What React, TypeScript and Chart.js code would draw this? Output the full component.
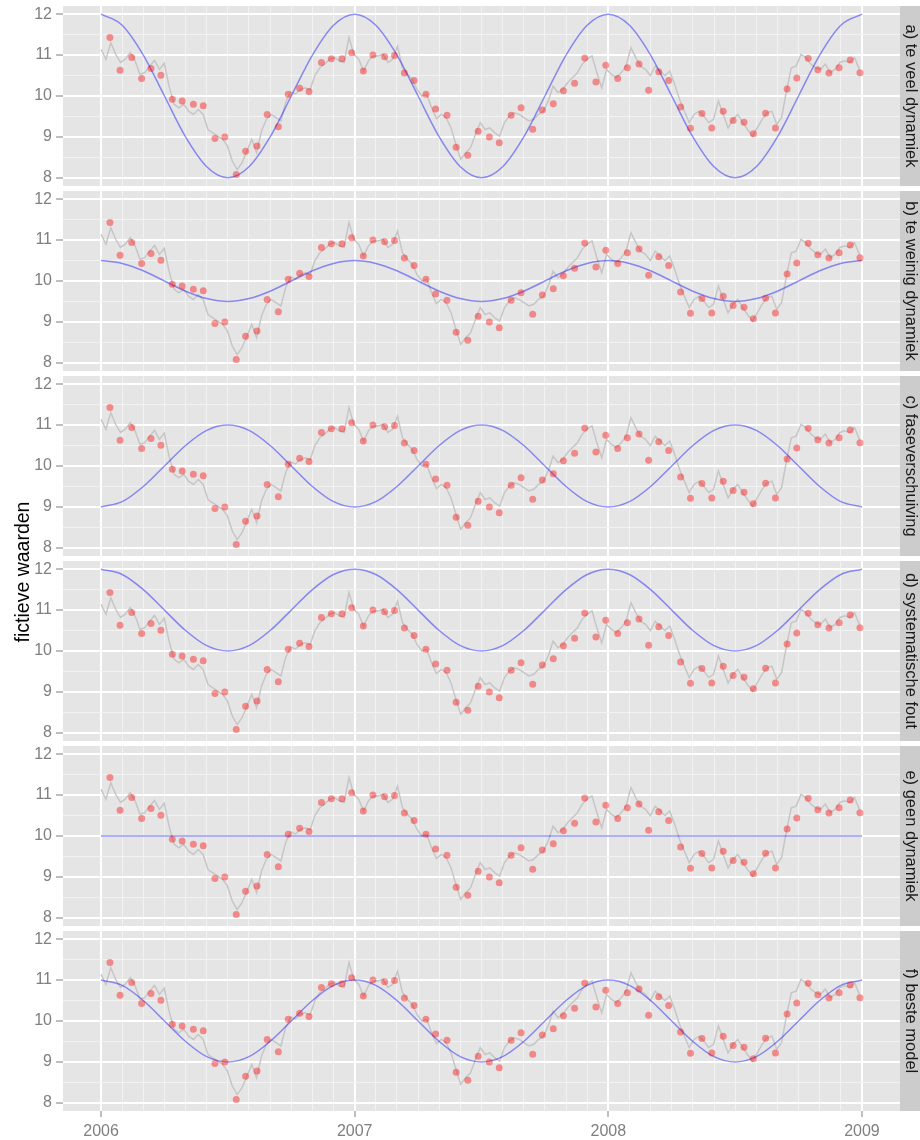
import React, { useEffect, useRef } from "react";
import { Chart, registerables } from "chart.js";

Chart.register(...registerables);

// ---------- data ----------
const panelLabels = [
  "a) te veel dynamiek",
  "b) te weinig dynamiek",
  "c) faseverschuiving",
  "d) systematische fout",
  "e) geen dynamiek",
  "f) beste model",
];

const yAxisTitle = "fictieve waarden";
const xTickYears = [2006, 2007, 2008, 2009];
const yTickValues = [8, 9, 10, 11, 12];

// observations (pink points): time offset in years from 2006, value
const obsTimes = [
  0.035, 0.075, 0.121, 0.16, 0.197, 0.236, 0.281, 0.32, 0.364, 0.403,
  0.449, 0.488, 0.533, 0.57, 0.615, 0.655, 0.699, 0.738, 0.783, 0.82,
  0.869, 0.908, 0.95, 0.988, 1.034, 1.072, 1.118, 1.157, 1.196, 1.234,
  1.281, 1.319, 1.364, 1.4, 1.446, 1.487, 1.531, 1.57, 1.617, 1.656,
  1.702, 1.74, 1.783, 1.823, 1.867, 1.907, 1.951, 1.99, 2.037, 2.075,
  2.121, 2.159, 2.199, 2.238, 2.285, 2.324, 2.369, 2.408, 2.453, 2.492,
  2.535, 2.572, 2.62, 2.659, 2.705, 2.743, 2.788, 2.826, 2.87, 2.91,
  2.954, 2.992,
];
const obsValues = [
  11.43, 10.63, 10.94, 10.43, 10.67, 10.51, 9.92, 9.88, 9.8, 9.76,
  8.96, 9.0, 8.08, 8.65, 8.78, 9.55, 9.25, 10.04, 10.19, 10.11,
  10.82, 10.91, 10.91, 11.06, 10.61, 11.0, 10.96, 10.99, 10.56, 10.38,
  10.04, 9.68, 9.53, 8.75, 8.55, 9.14, 9.0, 8.86, 9.53, 9.71,
  9.19, 9.66, 9.81, 10.13, 10.31, 10.93, 10.34, 10.75, 10.43, 10.69,
  10.78, 10.14, 10.59, 10.38, 9.73, 9.21, 9.57, 9.22, 9.63, 9.4,
  9.36, 9.08, 9.58, 9.22, 10.17, 10.44, 10.92, 10.64, 10.56, 10.69,
  10.88, 10.57,
];

// underlying series (grey line), one value per week from 1 Jan 2006
const greyStepDays = 7;
const greyValues = [
  11.14, 10.9, 11.3, 11.02, 10.82, 10.9, 11.06, 10.86, 10.53, 10.57,
  10.73, 10.87, 10.65, 10.8, 10.24, 9.8, 9.71, 9.8, 9.63, 9.55,
  9.67, 9.55, 9.18, 9.1, 9.02, 8.94, 8.78, 8.41, 8.2, 8.37,
  8.65, 8.94, 8.61, 9.14, 9.43, 9.55, 9.47, 9.39, 9.85, 10.1,
  10.05, 10.16, 10.2, 10.15, 10.5, 10.69, 10.78, 10.9, 10.94, 10.86,
  10.82, 11.43, 11.02, 10.9, 10.61, 10.86, 10.98, 10.98, 11.02, 10.82,
  10.9, 11.22, 10.69, 10.53, 10.41, 10.16, 10.0, 10.04, 9.71, 9.45,
  9.55, 9.47, 9.22, 8.82, 8.45, 8.61, 8.73, 9.05, 9.35, 9.18,
  9.22, 9.1, 9.02, 9.35, 9.51, 9.59, 9.55, 9.47, 9.39, 9.43,
  9.55, 9.63, 9.88, 10.24, 10.08, 10.16, 10.33, 10.45, 10.57, 10.78,
  10.9, 10.98, 10.57, 10.2, 10.65, 10.53, 10.45, 10.57, 10.73, 11.18,
  10.94, 10.73, 10.65, 10.5, 10.73, 10.61, 10.5, 10.61, 10.29, 9.92,
  9.63, 9.35, 9.55, 9.63, 9.51, 9.35, 9.43, 9.88, 9.55, 9.22,
  9.43, 9.55, 9.35, 9.18, 9.02, 9.22, 9.43, 9.59, 9.63, 9.31,
  9.47, 10.12, 10.69, 10.73, 11.02, 10.94, 10.78, 10.69, 10.65, 10.78,
  10.57, 10.65, 10.82, 10.86, 10.82, 10.94, 10.65,
];

// model curves (blue), one value per month from Jan 2006 to Jan 2009
const modelA = [
  12, 11.73, 11, 10, 9, 8.27, 8, 8.27, 9, 10, 11, 11.73,
  12, 11.73, 11, 10, 9, 8.27, 8, 8.27, 9, 10, 11, 11.73,
  12, 11.73, 11, 10, 9, 8.27, 8, 8.27, 9, 10, 11, 11.73, 12,
];
const modelB = [
  10.5, 10.43, 10.25, 10, 9.75, 9.57, 9.5, 9.57, 9.75, 10, 10.25, 10.43,
  10.5, 10.43, 10.25, 10, 9.75, 9.57, 9.5, 9.57, 9.75, 10, 10.25, 10.43,
  10.5, 10.43, 10.25, 10, 9.75, 9.57, 9.5, 9.57, 9.75, 10, 10.25, 10.43, 10.5,
];
const modelC = [
  9, 9.13, 9.5, 10, 10.5, 10.87, 11, 10.87, 10.5, 10, 9.5, 9.13,
  9, 9.13, 9.5, 10, 10.5, 10.87, 11, 10.87, 10.5, 10, 9.5, 9.13,
  9, 9.13, 9.5, 10, 10.5, 10.87, 11, 10.87, 10.5, 10, 9.5, 9.13, 9,
];
const modelD = [
  12, 11.87, 11.5, 11, 10.5, 10.13, 10, 10.13, 10.5, 11, 11.5, 11.87,
  12, 11.87, 11.5, 11, 10.5, 10.13, 10, 10.13, 10.5, 11, 11.5, 11.87,
  12, 11.87, 11.5, 11, 10.5, 10.13, 10, 10.13, 10.5, 11, 11.5, 11.87, 12,
];
const modelE = [
  10, 10, 10, 10, 10, 10, 10, 10, 10, 10, 10, 10,
  10, 10, 10, 10, 10, 10, 10, 10, 10, 10, 10, 10,
  10, 10, 10, 10, 10, 10, 10, 10, 10, 10, 10, 10, 10,
];
const modelF = [
  11, 10.87, 10.5, 10, 9.5, 9.13, 9, 9.13, 9.5, 10, 10.5, 10.87,
  11, 10.87, 10.5, 10, 9.5, 9.13, 9, 9.13, 9.5, 10, 10.5, 10.87,
  11, 10.87, 10.5, 10, 9.5, 9.13, 9, 9.13, 9.5, 10, 10.5, 10.87, 11,
];
const models = [modelA, modelB, modelC, modelD, modelE, modelF];

// ---------- layout ----------
const FONT = '"Liberation Sans", Arial, Helvetica, sans-serif';
const PANEL_TOP = 6;
const PANEL_STEP = 185;
const PANEL_H = 180;
const X_AXIS_H = 40;
const LEFT_W = 63;
const STRIP_W = 20;
const X_MIN = 2005.85;
const X_MAX = 2009.15;
const Y_MIN = 7.8;
const Y_MAX = 12.2;

const isWhole = (v: number) => Math.abs(v - Math.round(v)) < 1e-6;

const decorPlugin = {
  id: "panelDecor",
  beforeDraw(chart: any, _args: any, opts: any) {
    const { ctx, chartArea: a } = chart;
    ctx.save();
    ctx.fillStyle = "#E5E5E5";
    ctx.fillRect(a.left, a.top, a.right - a.left, a.bottom - a.top);
    ctx.fillStyle = "#CCCCCC";
    ctx.fillRect(a.right, a.top, chart.width - a.right, a.bottom - a.top);
    ctx.translate(a.right + 5.5, (a.top + a.bottom) / 2);
    ctx.rotate(Math.PI / 2);
    ctx.fillStyle = "#1A1A1A";
    ctx.font = `16.5px ${FONT}`;
    ctx.textAlign = "center";
    ctx.textBaseline = "alphabetic";
    ctx.fillText(opts.label, 0, 0);
    ctx.restore();
  },
};

function Panel({ index }: { index: number }) {
  const ref = useRef<HTMLCanvasElement>(null);
  const showX = index === panelLabels.length - 1;
  const height = PANEL_H + (showX ? X_AXIS_H : 0);

  useEffect(() => {
    if (!ref.current) return;
    const obsData = obsTimes.map((t, i) => ({ x: 2006 + t, y: obsValues[i] }));
    const greyData = greyValues.map((v, k) => ({
      x: 2006 + (k * greyStepDays) / 365.25,
      y: v,
    }));
    const modelData = models[index].map((v, m) => ({ x: 2006 + m / 12, y: v }));

    const xTicks: number[] = [];
    for (let y = xTickYears[0]; y < xTickYears[xTickYears.length - 1]; y++) {
      for (let m = 0; m < 12; m++) xTicks.push(y + m / 12);
    }
    xTicks.push(xTickYears[xTickYears.length - 1]);
    const yTicks: number[] = [];
    for (let i = 0; i < yTickValues.length; i++) {
      yTicks.push(yTickValues[i]);
      if (i < yTickValues.length - 1) yTicks.push(yTickValues[i] + 0.5);
    }

    const gridColor = (ctx: any) =>
      ctx.tick && isWhole(ctx.tick.value) ? "#FFFFFF" : "#F2F2F2";
    const gridWidth = (ctx: any) => (ctx.tick && isWhole(ctx.tick.value) ? 2 : 1);
    const tickColor = (ctx: any) =>
      ctx.tick && isWhole(ctx.tick.value) ? "#7F7F7F" : "rgba(0,0,0,0)";

    const chart = new Chart(ref.current, {
      type: "line",
      data: {
        datasets: [
          {
            label: "waarnemingen",
            data: obsData,
            showLine: false,
            pointRadius: 3.5,
            pointBackgroundColor: "rgba(255,0,0,0.4)",
            pointBorderColor: "rgba(0,0,0,0)",
            pointBorderWidth: 0,
          },
          {
            label: "model",
            data: modelData,
            borderColor: "rgba(0,0,255,0.42)",
            borderWidth: 1.5,
            pointRadius: 0,
            cubicInterpolationMode: "monotone",
          },
          {
            label: "reeks",
            data: greyData,
            borderColor: "#C6C6C6",
            borderWidth: 1.5,
            pointRadius: 0,
            tension: 0,
          },
        ],
      },
      options: {
        animation: false,
        responsive: false,
        devicePixelRatio: 1,
        events: [],
        layout: {
          padding: { left: 0, right: STRIP_W, top: 0, bottom: 0 },
          autoPadding: false,
        },
        plugins: {
          legend: { display: false },
          tooltip: { enabled: false },
          panelDecor: { label: panelLabels[index] },
        } as any,
        scales: {
          x: {
            type: "linear",
            min: X_MIN,
            max: X_MAX,
            border: { display: false },
            afterBuildTicks: (scale: any) => {
              scale.ticks = xTicks.map((v) => ({ value: v }));
            },
            afterFit: (scale: any) => {
              scale.height = showX ? X_AXIS_H : 0;
              scale.paddingLeft = 0;
              scale.paddingRight = 0;
            },
            grid: {
              color: gridColor,
              lineWidth: gridWidth,
              drawTicks: showX,
              tickLength: 6,
              tickWidth: 1,
              tickColor: tickColor,
            },
            ticks: {
              display: showX,
              autoSkip: false,
              maxRotation: 0,
              minRotation: 0,
              padding: 5,
              color: "#7F7F7F",
              font: { family: FONT, size: 16 },
              callback: (v: any) => (isWhole(Number(v)) ? String(Math.round(Number(v))) : ""),
            },
          },
          y: {
            type: "linear",
            min: Y_MIN,
            max: Y_MAX,
            border: { display: false },
            afterBuildTicks: (scale: any) => {
              scale.ticks = yTicks.map((v) => ({ value: v }));
            },
            afterFit: (scale: any) => {
              scale.width = LEFT_W;
              scale.paddingTop = 0;
              scale.paddingBottom = 0;
            },
            grid: {
              color: gridColor,
              lineWidth: gridWidth,
              drawTicks: true,
              tickLength: 7,
              tickWidth: 1,
              tickColor: tickColor,
            },
            ticks: {
              autoSkip: false,
              padding: 4,
              color: "#7F7F7F",
              font: { family: FONT, size: 16 },
              callback: (v: any) => (isWhole(Number(v)) ? String(Math.round(Number(v))) : ""),
            },
          },
        },
      },
      plugins: [decorPlugin],
    } as any);
    return () => chart.destroy();
  }, [index]);

  return (
    <div
      style={{
        position: "absolute",
        left: 0,
        top: PANEL_TOP + index * PANEL_STEP,
        width: 920,
        height,
      }}
    >
      <canvas ref={ref} width={920} height={height} style={{ width: 920, height }} />
    </div>
  );
}

export default function App() {
  return (
    <div
      style={{
        position: "absolute",
        left: 0,
        top: 0,
        width: 920,
        height: 1140,
        background: "#FFFFFF",
        overflow: "hidden",
      }}
    >
      {panelLabels.map((_, i) => (
        <Panel key={i} index={i} />
      ))}
      <div
        style={{
          position: "absolute",
          left: 21.5 - 150,
          top: 571.5 - 10,
          width: 300,
          height: 20,
          lineHeight: "20px",
          textAlign: "center",
          transform: "rotate(-90deg)",
          fontFamily: FONT,
          fontSize: 19.5,
          color: "#000000",
          whiteSpace: "nowrap",
        }}
      >
        {yAxisTitle}
      </div>
    </div>
  );
}
